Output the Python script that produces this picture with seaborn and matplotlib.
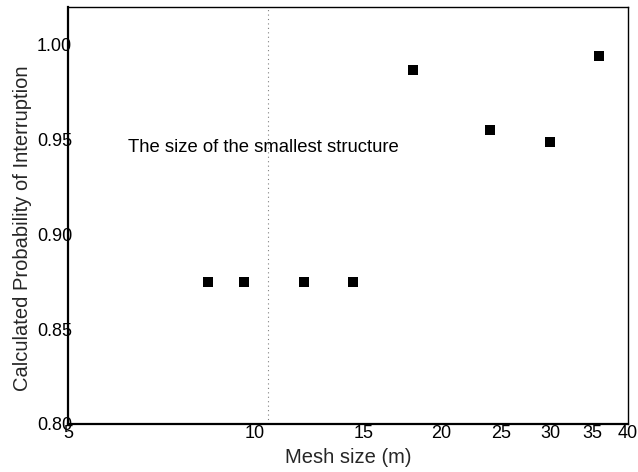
import matplotlib
matplotlib.use("Agg")
import matplotlib.pyplot as plt
import matplotlib.ticker as mticker
import seaborn as sns
import pandas as pd

mesh_size = [8.4, 9.6, 12, 14.4, 18, 24, 30, 36]
probability = [0.875, 0.875, 0.875, 0.875, 0.987, 0.955, 0.949, 0.994]
x_ticks = [5, 10, 15, 20, 25, 30, 35, 40]
y_ticks = [0.80, 0.85, 0.90, 0.95, 1.00]
smallest_structure = 10.5

sns.set_theme(style="white")
plt.rcParams['font.family'] = ['Liberation Sans', 'DejaVu Sans']

df = pd.DataFrame({"mesh": mesh_size, "prob": probability})

fig = plt.figure(figsize=(6.38, 4.72), dpi=100)
ax = fig.add_axes([0.1066, 0.1017, 0.8774, 0.8833])

sns.scatterplot(data=df, x="mesh", y="prob", marker="s", s=60, color="black",
                edgecolor="black", linewidth=0, ax=ax)

ax.set_xscale("log")
ax.set_xlim(5, 40)
ax.set_ylim(0.80, 1.02)
ax.xaxis.set_major_locator(mticker.FixedLocator(x_ticks))
ax.xaxis.set_major_formatter(mticker.FixedFormatter([str(v) for v in x_ticks]))
ax.xaxis.set_minor_locator(mticker.NullLocator())
ax.set_yticks(y_ticks)
ax.set_yticklabels([f"{v:.2f}" for v in y_ticks])

ax.axvline(smallest_structure, color="gray", linestyle=(0, (1, 3)), linewidth=0.8)
ax.text(6.25, 0.946, "The size of the smallest structure", fontsize=13.3, color="black",
        va="center", ha="left")

for sp in ax.spines.values():
    sp.set_color("black")
    sp.set_linewidth(1.0)
ax.spines["left"].set_linewidth(1.6)
ax.spines["bottom"].set_linewidth(1.6)

ax.tick_params(axis="both", direction="in", length=2, width=0.8, labelsize=13,
               colors="black", pad=1)
ax.tick_params(axis="y", pad=-3)
ax.set_xlabel("Mesh size (m)", fontsize=14.5, labelpad=4)
ax.set_ylabel("Calculated Probability of Interruption", fontsize=14.5)
ax.yaxis.set_label_coords(-0.064, 0.47)

fig.savefig("out.png", dpi=100)
